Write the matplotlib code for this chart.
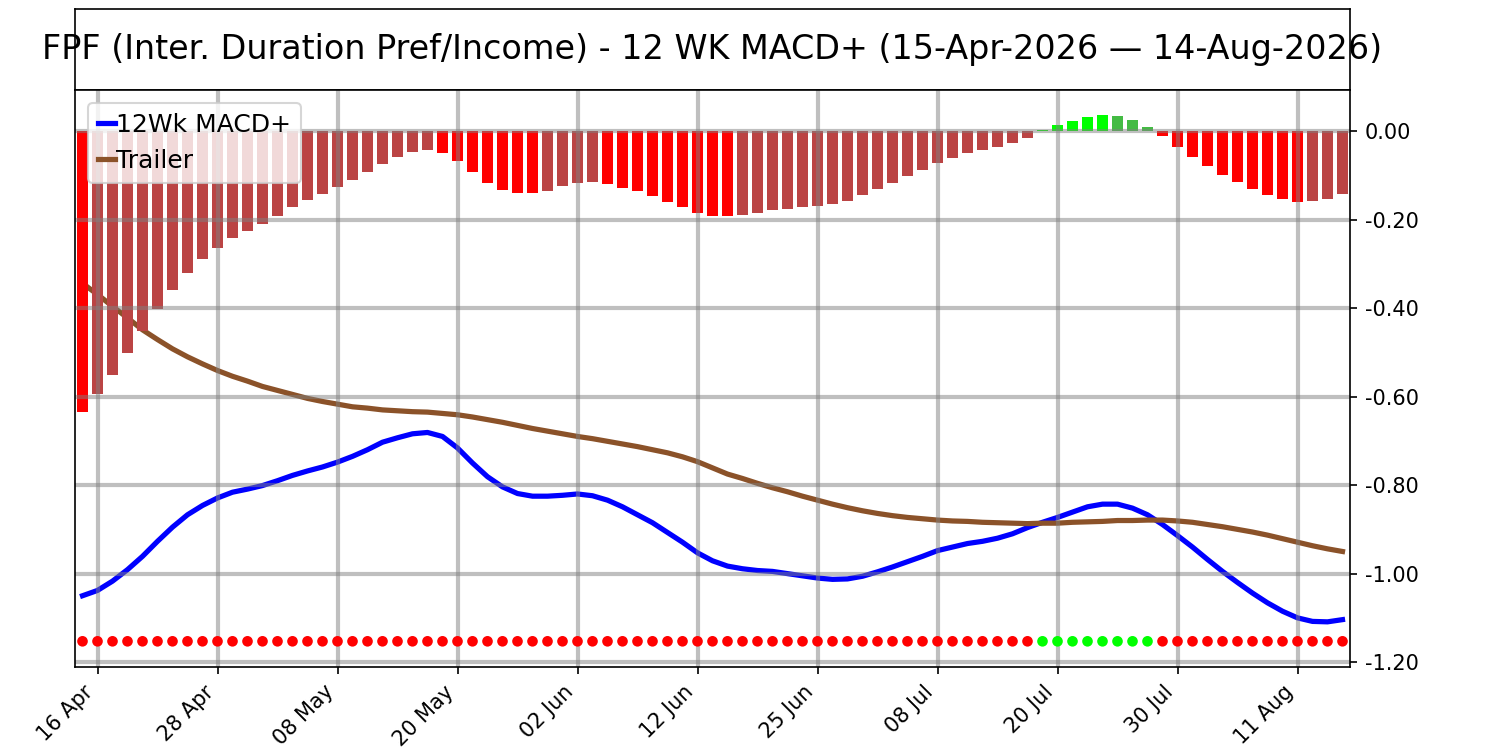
import matplotlib
matplotlib.use('Agg')
import matplotlib.pyplot as plt
import numpy as np

# 数据
title = 'FPF (Inter. Duration Pref/Income) - 12 WK MACD+ (15-Apr-2026 \u2014 14-Aug-2026)'
tick_labels = ['16 Apr', '28 Apr', '08 May', '20 May', '02 Jun', '12 Jun',
               '25 Jun', '08 Jul', '20 Jul', '30 Jul', '11 Aug']
tick_pos = [1, 9, 17, 25, 33, 41, 49, 57, 65, 73, 81]

macd = [-1.050, -1.038, -1.017, -0.991, -0.961, -0.927, -0.895, -0.867, -0.846, -0.829,
        -0.816, -0.809, -0.801, -0.790, -0.778, -0.768, -0.759, -0.748, -0.735, -0.720,
        -0.703, -0.693, -0.684, -0.681, -0.690, -0.716, -0.750, -0.781, -0.804, -0.819,
        -0.825, -0.825, -0.823, -0.820, -0.824, -0.834, -0.849, -0.867, -0.885, -0.907,
        -0.929, -0.953, -0.971, -0.983, -0.989, -0.993, -0.995, -1.000, -1.005, -1.010,
        -1.013, -1.012, -1.006, -0.996, -0.985, -0.973, -0.961, -0.948, -0.940, -0.932,
        -0.927, -0.920, -0.910, -0.896, -0.884, -0.873, -0.861, -0.849, -0.843, -0.843,
        -0.852, -0.867, -0.889, -0.914, -0.940, -0.968, -0.995, -1.020, -1.044, -1.066,
        -1.085, -1.100, -1.108, -1.109, -1.104]

trailer = [-0.344, -0.369, -0.396, -0.422, -0.449, -0.471, -0.492, -0.510, -0.526, -0.541,
           -0.554, -0.565, -0.577, -0.586, -0.595, -0.604, -0.611, -0.617, -0.623, -0.626,
           -0.630, -0.632, -0.634, -0.635, -0.638, -0.641, -0.646, -0.652, -0.658, -0.665,
           -0.672, -0.678, -0.684, -0.690, -0.695, -0.701, -0.707, -0.713, -0.720, -0.727,
           -0.736, -0.747, -0.761, -0.775, -0.785, -0.796, -0.806, -0.815, -0.825, -0.834,
           -0.843, -0.851, -0.858, -0.864, -0.869, -0.873, -0.876, -0.879, -0.881, -0.882,
           -0.884, -0.885, -0.886, -0.887, -0.886, -0.886, -0.884, -0.883, -0.882, -0.880,
           -0.880, -0.879, -0.879, -0.881, -0.884, -0.889, -0.894, -0.900, -0.906, -0.913,
           -0.921, -0.929, -0.937, -0.944, -0.950]

hist = [-0.634, -0.595, -0.550, -0.501, -0.451, -0.402, -0.359, -0.320, -0.289, -0.264,
        -0.241, -0.225, -0.209, -0.191, -0.171, -0.155, -0.142, -0.126, -0.110, -0.092,
        -0.074, -0.058, -0.047, -0.042, -0.049, -0.067, -0.092, -0.117, -0.133, -0.139,
        -0.140, -0.135, -0.124, -0.117, -0.115, -0.119, -0.128, -0.135, -0.146, -0.160,
        -0.171, -0.185, -0.191, -0.192, -0.189, -0.185, -0.178, -0.176, -0.171, -0.169,
        -0.164, -0.158, -0.144, -0.130, -0.117, -0.101, -0.087, -0.072, -0.060, -0.049,
        -0.042, -0.035, -0.026, -0.015, 0.003, 0.015, 0.023, 0.032, 0.036, 0.034,
        0.025, 0.010, -0.012, -0.035, -0.058, -0.078, -0.099, -0.115, -0.130, -0.144,
        -0.153, -0.160, -0.158, -0.153, -0.142]

dot_level = -1.153

x = np.arange(len(macd))

# 柱子颜色：负值下降=红，负值回升=棕红，正值上升=亮绿，正值回落=暗绿
bar_colors = []
for i, h in enumerate(hist):
    prev = hist[i - 1] if i > 0 else 0
    if h >= 0:
        bar_colors.append('#00FF00' if h >= prev else '#44BB44')
    else:
        bar_colors.append('#FF0000' if h < prev else '#BB4444')

dot_colors = ['#00FF00' if m > t else '#FF0000' for m, t in zip(macd, trailer)]

fig = plt.figure(figsize=(10, 5), dpi=150)

# 标题框
tax = fig.add_axes([0.05, 0.88, 0.85, 0.108])
tax.set_xticks([])
tax.set_yticks([])
tax.text(0.5, 0.5, title, ha='center', va='center', fontsize=16, transform=tax.transAxes)

ax = fig.add_axes([0.05, 0.1107, 0.85, 0.7693])
ax.plot(x, macd, color='#0000FF', lw=2.5, label='12Wk MACD+', zorder=0.8)
ax.plot(x, trailer, color='#8B5229', lw=2.5, label='Trailer', zorder=0.8)
ax.bar(x, hist, width=0.7, color=bar_colors, zorder=1)
ax.scatter(x, [dot_level] * len(x), s=26, c=dot_colors, zorder=3, linewidths=0)

ax.set_xlim(-0.5, 84.5)
ax.set_ylim(-1.211, 0.093)
ax.set_xticks(tick_pos)
ax.set_xticklabels(tick_labels, rotation=45, ha='right', fontsize=10)
ax.set_yticks([0, -0.2, -0.4, -0.6, -0.8, -1.0, -1.2])
ax.set_yticklabels(['%.2f' % v for v in [0, -0.2, -0.4, -0.6, -0.8, -1.0, -1.2]], fontsize=10)
ax.yaxis.tick_right()
ax.grid(True, color='gray', alpha=0.5, lw=2, zorder=1.5)

ax.legend(loc='upper left', fontsize=12, handlelength=0.7, handletextpad=0.05,
          borderpad=0.4, labelspacing=0.5)

plt.savefig('out.png', dpi=150)
